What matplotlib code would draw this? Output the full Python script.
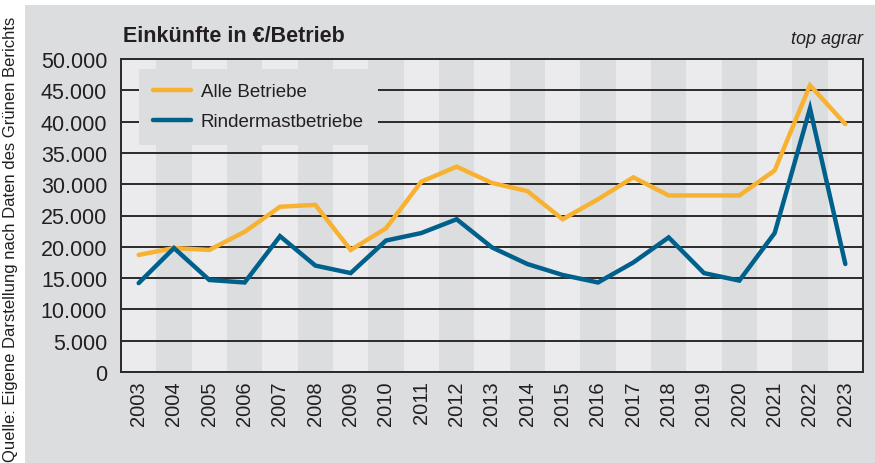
import matplotlib
matplotlib.use("Agg")
import matplotlib.pyplot as plt
from matplotlib.patches import Rectangle

years = list(range(2003, 2024))
alle_betriebe = [18700, 19800, 19500, 22400, 26400, 26700, 19500, 22950, 30400, 32800,
                 30200, 28900, 24400, 27600, 31100, 28200, 28200, 28200, 32200, 45800, 39600]
rindermast = [14200, 19800, 14700, 14300, 21700, 17000, 15800, 21000, 22200, 24400,
              19900, 17250, 15500, 14300, 17500, 21500, 15800, 14600, 22200, 42100, 17250]
yticks = [0, 5000, 10000, 15000, 20000, 25000, 30000, 35000, 40000, 45000, 50000]
ytick_labels = ["0", "5.000", "10.000", "15.000", "20.000", "25.000", "30.000",
                "35.000", "40.000", "45.000", "50.000"]

plt.rcParams['font.family'] = ['Liberation Sans', 'DejaVu Sans']

W, H = 875, 464
fig = plt.figure(figsize=(W / 100, H / 100), dpi=100)
fig.patch.set_facecolor('white')

DARK = '#dcdddf'
LIGHT = '#ebebed'
TXT = '#231f20'

# gray panel
fig.patches.append(Rectangle((25 / W, 0), 1 - 25 / W, (H - 6) / H, transform=fig.transFigure,
                             facecolor=DARK, edgecolor='none', zorder=-10))

ax = fig.add_axes([121 / W, (H - 373) / H, (863 - 121) / W, (373 - 60) / H])
ax.set_zorder(2)
ax.set_facecolor(LIGHT)

for i, yr in enumerate(years):
    ax.axvspan(yr - 0.5, yr + 0.5, color=LIGHT if i % 2 == 0 else DARK, lw=0, zorder=0)

for t in yticks:
    ax.axhline(t, color='#2a2a2a', lw=1.4, zorder=1)

ax.plot(years, alle_betriebe, color='#f7b232', lw=3.2, label='Alle Betriebe', zorder=3,
        solid_joinstyle='miter', solid_capstyle='round')
ax.plot(years, rindermast, color='#00608c', lw=3.2, label='Rindermastbetriebe', zorder=3,
        solid_joinstyle='miter', solid_capstyle='round')

ax.set_xlim(years[0] - 0.5, years[-1] + 0.5)
ax.set_ylim(0, 50000)
ax.set_yticks(yticks)
ax.set_yticklabels(ytick_labels)
ax.set_xticks(years)
ax.set_xticklabels([str(y) for y in years], rotation=90)
ax.tick_params(axis='y', length=0, pad=10, labelsize=15.5, labelcolor=TXT)
ax.tick_params(axis='x', length=0, pad=6, labelsize=14.5, labelcolor=TXT)

for s in ['left', 'bottom', 'right', 'top']:
    ax.spines[s].set_color('#2a2a2a')
    ax.spines[s].set_linewidth(1.4)

leg = ax.legend(loc='upper left', bbox_to_anchor=(18 / 742, (373 - 70) / 313),
                frameon=True, fancybox=False, framealpha=1, facecolor=DARK,
                edgecolor='none', fontsize=13.5, handlelength=2.0, handletextpad=0.55,
                borderpad=0.75, labelspacing=0.7, borderaxespad=0)
for t in leg.get_texts():
    t.set_color(TXT)
leg.set_zorder(5)

fig.text(123 / W, (H - 37) / H, 'Einkünfte in €/Betrieb', fontsize=15.5, fontweight='bold',
         color=TXT, ha='left', va='center')
fig.text(863 / W, (H - 40) / H, 'top agrar', fontsize=13, fontstyle='italic',
         color=TXT, ha='right', va='center')
fig.text(11 / W, 2 / H, 'Quelle: Eigene Darstellung nach Daten des Grünen Berichts',
         rotation=90, fontsize=12, color=TXT, ha='center', va='bottom')

fig.savefig('out.png', dpi=100)
